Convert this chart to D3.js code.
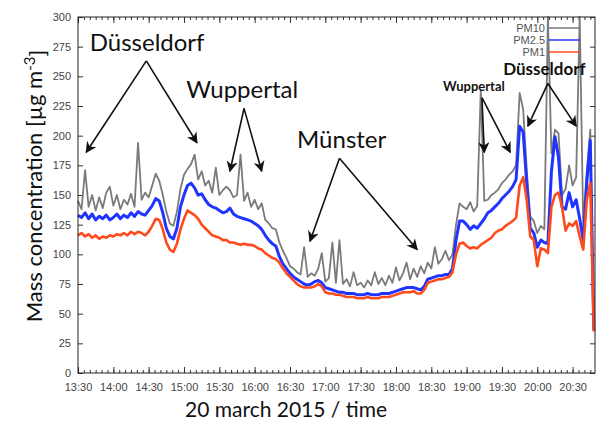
<!DOCTYPE html>
<html>
<head>
<meta charset="utf-8">
<script src="https://cdn.jsdelivr.net/npm/d3@7"></script>
<style>
  body { margin: 0; background: #fff; }
  svg { display: block; }
</style>
</head>
<body>
<svg id="chart" width="597" height="423"></svg>
<script>
// sampling grid: one reading every 3 minutes from 13:30 (minutes since midnight)
const startMinute = 810;
const stepMinutes = 3;

const pm10 = [145,138,171,140,150,137,148,139,152,157,141,150,138,146,142,151,140,194,146,152,
  148,158,168,162,150,136,126,124,136,155,167,172,176,184,163,170,158,162,152,173,
  150,154,157,154,148,150,184,145,152,140,146,138,143,129,126,122,121,110,103,97,
  90,88,85,83,106,81,84,82,88,101,77,80,110,76,112,75,79,73,85,74,
  76,72,78,74,85,75,80,74,82,76,89,78,84,93,79,88,81,90,84,93,
  88,106,92,96,103,95,100,125,143,140,138,144,136,141,238,145,146,150,152,155,
  160,163,167,170,175,236,222,172,132,128,118,124,121,300,185,205,202,150,155,175,
  158,165,300,125,170,205,38];

const pm25 = [133,131,135,130,134,129,132,130,133,129,131,134,130,133,131,135,132,136,134,133,
  137,141,147,145,135,122,115,113,122,140,150,158,160,156,150,151,146,142,140,139,
  137,135,136,139,134,132,131,130,129,128,126,124,121,116,112,109,107,98,92,88,
  84,81,79,77,75,74,75,77,78,76,72,71,70,69,68,68,67,67,67,66,
  66,66,67,66,66,66,67,67,67,68,69,70,71,72,72,72,71,70,73,79,
  80,81,82,82,83,83,88,112,128,128,125,121,124,122,126,130,135,137,140,143,
  147,150,153,157,163,208,203,160,122,118,106,112,110,109,170,199,182,140,138,152,
  140,146,130,112,160,196,36];

const pm1 = [116,118,115,117,114,116,113,115,114,116,115,117,116,118,116,119,117,119,118,116,
  119,124,130,129,121,110,104,102,109,121,130,137,135,133,130,125,122,119,116,115,
  114,112,112,110,110,109,108,109,108,108,107,105,104,101,99,97,96,93,88,84,
  81,78,75,73,72,72,72,73,75,73,68,67,67,66,66,65,64,64,64,63,
  63,63,64,63,63,63,64,64,64,65,66,67,68,68,68,69,67,67,70,76,
  77,78,79,79,80,81,85,100,109,110,107,105,106,105,108,110,112,114,118,120,
  121,124,126,128,131,158,165,146,115,112,90,105,104,101,140,150,152,140,120,126,
  124,128,115,104,146,160,35];

const yTicks = [0,25,50,75,100,125,150,175,200,225,250,275,300];
const xTickMinutes = [810,840,870,900,930,960,990,1020,1050,1080,1110,1140,1170,1200,1230];
const xTickLabels = ['13:30','14:00','14:30','15:00','15:30','16:00','16:30','17:00','17:30','18:00','18:30','19:00','19:30','20:00','20:30'];

const seriesNames = ['PM10','PM2.5','PM1'];
const seriesColors = ['#7a7a7a','#1f35ff','#ff4a1c'];

// place names with arrows, in data units (minutes, µg m-3)
const notes = [
  {text:'Düsseldorf', t:820, v:271, bold:false, size:24, apex:[868,263], ends:[[817,186],[911,194]]},
  {text:'Wuppertal', t:902, v:232, bold:false, size:24, apex:[951,223], ends:[[939,170],[966,170]]},
  {text:'Münster', t:996, v:190, bold:false, size:24, apex:[1032,181], ends:[[1007,111],[1098,104]]},
  {text:'Wuppertal', t:1120, v:238, bold:true, size:13, apex:[1153,232], ends:[[1155,186],[1177,186]]},
  {text:'Düsseldorf', t:1171, v:251, bold:true, size:17, apex:[1209,244], ends:[[1192,208],[1233,208]]}
];

const svg = d3.select('#chart');
const plotLeft = 78, plotRight = 595, plotTop = 17, plotBottom = 373;

const x = d3.scaleLinear().domain([810, 1249]).range([plotLeft, plotRight]);
const y = d3.scaleLinear().domain([0, 300]).range([plotBottom, plotTop]);

const tickFont = '11px "Liberation Sans", Arial, sans-serif';

// axes, ticks drawn inwards (gnuplot style)
svg.append('g').attr('transform', `translate(${plotLeft},0)`)
  .call(d3.axisLeft(y).tickValues(yTicks).tickSizeInner(-5).tickSizeOuter(0).tickPadding(7));
svg.append('g').attr('transform', `translate(${plotRight},0)`)
  .call(d3.axisRight(y).tickValues(yTicks).tickSizeInner(-5).tickSizeOuter(0).tickFormat(''));

const minorMinutes = d3.range(810, 1249, 5);
svg.append('g').attr('transform', `translate(0,${plotBottom})`)
  .call(d3.axisBottom(x).tickValues(minorMinutes).tickSizeInner(-3).tickSizeOuter(0).tickFormat(''));
svg.append('g').attr('transform', `translate(0,${plotTop})`)
  .call(d3.axisTop(x).tickValues(minorMinutes).tickSizeInner(-3).tickSizeOuter(0).tickFormat(''));
svg.append('g').attr('transform', `translate(0,${plotBottom})`)
  .call(d3.axisBottom(x).tickValues(xTickMinutes).tickSizeInner(-6).tickSizeOuter(0).tickPadding(10)
    .tickFormat((d, i) => xTickLabels[i]));
svg.append('g').attr('transform', `translate(0,${plotTop})`)
  .call(d3.axisTop(x).tickValues(xTickMinutes).tickSizeInner(-6).tickSizeOuter(0).tickFormat(''));

svg.selectAll('.domain').remove();
svg.selectAll('.tick line').attr('stroke', '#333');
svg.selectAll('.tick text').style('font', tickFont).attr('fill', '#444');

// series
const line = d3.line()
  .x((d, i) => x(startMinute + i * stepMinutes))
  .y(d => y(d));

const widths = [1.8, 3, 2.6];
[pm10, pm25, pm1].forEach((s, k) => {
  svg.append('path')
    .datum(s)
    .attr('fill', 'none')
    .attr('stroke', seriesColors[k])
    .attr('stroke-width', widths[k])
    .attr('stroke-linejoin', 'round')
    .attr('d', line);
});

// frame
svg.append('rect')
  .attr('x', plotLeft).attr('y', plotTop)
  .attr('width', plotRight - plotLeft).attr('height', plotBottom - plotTop)
  .attr('fill', 'none').attr('stroke', '#222').attr('stroke-width', 1);

// legend
seriesNames.forEach((name, k) => {
  const ly = 28 + k * 12;
  svg.append('text')
    .attr('x', 545).attr('y', ly).attr('dy', '0.35em')
    .attr('text-anchor', 'end')
    .style('font', tickFont).attr('fill', '#555')
    .text(name);
  svg.append('line')
    .attr('x1', 549).attr('x2', 580).attr('y1', ly).attr('y2', ly)
    .attr('stroke', seriesColors[k]).attr('stroke-width', 1.5);
});

// arrow marker
svg.append('defs').append('marker')
  .attr('id', 'head')
  .attr('viewBox', '0 0 10 10')
  .attr('refX', 9).attr('refY', 5)
  .attr('markerWidth', 7).attr('markerHeight', 7)
  .attr('orient', 'auto')
  .append('path')
  .attr('d', 'M0,0 L10,5 L0,10 L3,5 Z')
  .attr('fill', '#111');

notes.forEach(n => {
  svg.append('text')
    .attr('x', x(n.t)).attr('y', y(n.v))
    .style('font-family', 'Lato, "Open Sans", sans-serif')
    .style('font-size', n.size + 'px')
    .style('font-weight', n.bold ? 'bold' : 'normal')
    .attr('fill', '#111')
    .text(n.text);
  n.ends.forEach(e => {
    svg.append('line')
      .attr('x1', x(n.apex[0])).attr('y1', y(n.apex[1]))
      .attr('x2', x(e[0])).attr('y2', y(e[1]))
      .attr('stroke', '#111').attr('stroke-width', 1.6)
      .attr('marker-end', 'url(#head)');
  });
});

// axis titles
const yTitle = svg.append('text')
  .attr('transform', 'translate(42,186) rotate(-90)')
  .attr('text-anchor', 'middle')
  .style('font-family', 'Lato, "Open Sans", sans-serif')
  .style('font-size', '22px')
  .attr('fill', '#111');
yTitle.append('tspan').text('Mass concentration [µg m');
yTitle.append('tspan').attr('dy', '-0.45em').style('font-size', '15px').text('-3');
yTitle.append('tspan').attr('dy', '0.45em').text(']');

svg.append('text')
  .attr('x', 286).attr('y', 417)
  .attr('text-anchor', 'middle')
  .style('font-family', 'Lato, "Open Sans", sans-serif')
  .style('font-size', '21px')
  .attr('fill', '#111')
  .text('20 march 2015 / time');
</script>
</body>
</html>
